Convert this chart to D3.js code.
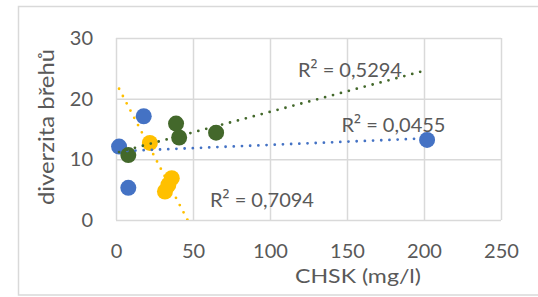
<!DOCTYPE html>
<html>
<head>
<meta charset="utf-8">
<script src="https://cdn.jsdelivr.net/npm/d3@7"></script>
<style>
    html, body { margin: 0; padding: 0; background: #fff; }
    svg text { font-family: Lato, "Open Sans", sans-serif; fill: #595959; }
</style>
</head>
<body>
<svg id="chart" width="538" height="297"></svg>
<script>
"use strict";

// Series values (CHSK mg/l vs. diverzita břehů)
const blueX = [2, 18, 8, 202];
const blueY = [12.1, 17.1, 5.3, 13.2];
const greenX = [8, 39, 41, 65];
const greenY = [10.7, 15.9, 13.6, 14.4];
const yellowX = [22, 36.2, 34, 31.8];
const yellowY = [12.7, 6.9, 5.8, 4.7];

// Trendline extents (with forecast), and the R² labels shown on the chart
const trendFrom = [2, 2, 2];
const trendTo = [202, 200, 50];
const r2Labels = ["R² = 0,0455", "R² = 0,5294", "R² = 0,7094"];

// Axis ticks and titles
const xTicks = [0, 50, 100, 150, 200, 250];
const yTicks = [0, 10, 20, 30];
const xTitle = "CHSK (mg/l)";
const yTitle = "diverzita břehů";

const colors = ["#4472C4", "#43682B", "#FFC000"];

const margin = {top: 38, right: 37, bottom: 77, left: 116},
    width = 538 - margin.left - margin.right,
    height = 297 - margin.top - margin.bottom;

// stretch a text to a given width
function fitWidth(selection, w) {
    selection.attr("textLength", w).attr("lengthAdjust", "spacingAndGlyphs");
}

const svg = d3.select("#chart");

// chart area frame
svg.append("rect")
    .attr("x", 18.5).attr("y", 6.5)
    .attr("width", 600).attr("height", 288.5)
    .attr("fill", "#fff")
    .attr("stroke", "#d9d9d9")
    .attr("stroke-width", 1.5);

const x = d3.scaleLinear().domain([0, 250]).range([0, width]);
const y = d3.scaleLinear().domain([0, 30]).range([height, 0]);

const plot = svg.append("g")
    .attr("transform", "translate(" + margin.left + "," + margin.top + ")");

plot.append("clipPath").attr("id", "plotClip")
    .append("rect").attr("x", -2).attr("y", 0).attr("width", width + 4).attr("height", height);

// gridlines
plot.append("g")
    .call(d3.axisBottom(x).tickValues(xTicks).tickSize(height).tickFormat(""))
    .call(g => g.select(".domain").remove())
    .call(g => g.selectAll("line").attr("stroke", "#d9d9d9").attr("stroke-width", 1.5));
plot.append("g")
    .call(d3.axisLeft(y).tickValues(yTicks).tickSize(-width).tickFormat(""))
    .call(g => g.select(".domain").remove())
    .call(g => g.selectAll("line").attr("stroke", "#d9d9d9").attr("stroke-width", 1.5));

// tick labels
plot.append("g")
    .attr("transform", "translate(0," + height + ")")
    .call(d3.axisBottom(x).tickValues(xTicks).tickSize(0).tickPadding(23.5))
    .call(g => g.select(".domain").remove())
    .call(g => g.selectAll("text").attr("font-size", "20px").attr("fill", "#595959").style("font-family", null));
plot.append("g")
    .call(d3.axisLeft(y).tickValues(yTicks).tickSize(0).tickPadding(23))
    .call(g => g.select(".domain").remove())
    .call(g => g.selectAll("text").attr("font-size", "20px").attr("fill", "#595959").style("font-family", null));

// axis titles
svg.append("text")
    .attr("x", 358).attr("y", 282.5)
    .attr("text-anchor", "middle")
    .attr("font-size", "20px")
    .text(xTitle)
    .call(fitWidth, 126);
svg.append("text")
    .attr("transform", "translate(53.5,127) rotate(-90)")
    .attr("text-anchor", "middle")
    .attr("font-size", "21px")
    .text(yTitle)
    .call(fitWidth, 156);

const series = [
    {xs: blueX, ys: blueY},
    {xs: greenX, ys: greenY},
    {xs: yellowX, ys: yellowY}
].map((s, i) => ({points: s.xs.map((v, j) => [v, s.ys[j]]), color: colors[i], index: i}));

// markers
series.forEach(s => {
    plot.append("g").selectAll("circle")
        .data(s.points)
        .enter()
        .append("circle")
        .attr("cx", d => x(d[0]))
        .attr("cy", d => y(d[1]))
        .attr("r", 8)
        .attr("fill", s.color);
});

// least squares fit for each trendline
function fit(points) {
    const mx = d3.mean(points, d => d[0]), my = d3.mean(points, d => d[1]);
    const sxy = d3.sum(points, d => (d[0] - mx) * (d[1] - my));
    const sxx = d3.sum(points, d => (d[0] - mx) * (d[0] - mx));
    const slope = sxy / sxx;
    return v => my + slope * (v - mx);
}

series.forEach(s => {
    const f = fit(s.points);
    const a = trendFrom[s.index], b = trendTo[s.index];
    plot.append("line")
        .attr("clip-path", "url(#plotClip)")
        .attr("x1", x(a)).attr("y1", y(f(a)))
        .attr("x2", x(b)).attr("y2", y(f(b)))
        .attr("stroke", s.color)
        .attr("stroke-width", 2.8)
        .attr("stroke-linecap", "round")
        .attr("stroke-dasharray", "0,8.2");
});

// R² labels, the superscript in a font whose ² is drawn larger
const labelPos = [[341.5, 131.5], [298, 76.5], [210, 206.5]];
r2Labels.forEach((t, i) => {
    const parts = t.split("²");
    const label = svg.append("text")
        .attr("x", labelPos[i][0]).attr("y", labelPos[i][1])
        .attr("font-size", "20px");
    label.append("tspan").text(parts[0]);
    label.append("tspan").style("font-family", "'Open Sans'").text("²");
    label.append("tspan").text(parts[1]);
    label.call(fitWidth, 104);
});
</script>
</body>
</html>
